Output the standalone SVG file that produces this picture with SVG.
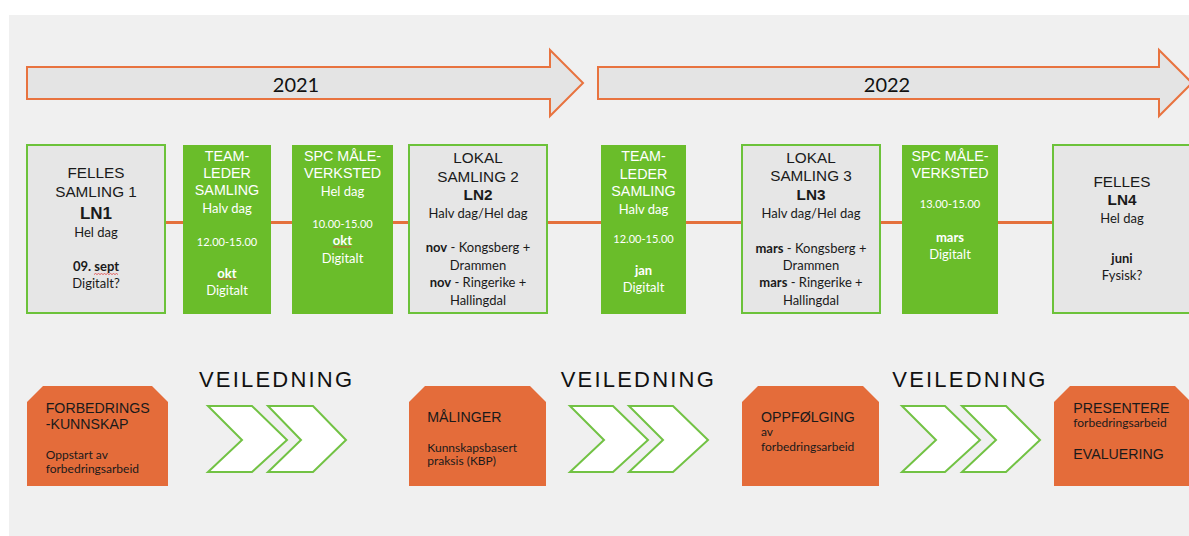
<svg xmlns="http://www.w3.org/2000/svg" width="1189" height="536" viewBox="0 0 1189 536">
<style>
.bg{fill:#f0f0f0}
.yr{fill:#e4e4e4;stroke:#e8733f;stroke-width:2}
.yrt{font-family:Lato,"Liberation Sans",sans-serif;font-size:20px;fill:#111;text-anchor:middle}
.gbox{fill:#e6e6e6;stroke:#6cc23a;stroke-width:2}
.grn{fill:#6abd2a}
.ar{font-family:"Liberation Sans",Arial,sans-serif;text-anchor:middle}
.cb{font-family:Lato,"Open Sans",sans-serif;text-anchor:middle}
.dk{fill:#1a1a1a}
.wh{fill:#ffffff}
.t15{font-size:15.3px}
.t14{font-size:14.3px}
.c13{font-size:13px}
.c11{font-size:11px}
.b{font-weight:bold}
.conn{stroke:#e4703c;stroke-width:3;fill:none}
.org{fill:#e46c3a}
.chev{fill:#ffffff;stroke:#72c244;stroke-width:2}
.vl{font-family:"Liberation Sans",Arial,sans-serif;font-size:22px;letter-spacing:2.2px;fill:#111}
.ot{font-family:"Liberation Sans",Arial,sans-serif;font-size:14.2px;fill:#1a1a1a}
.os{font-family:Lato,"Open Sans",sans-serif;font-size:12px;fill:#1a1a1a}
.sq{stroke:#e04040;stroke-width:0.8;fill:none}
</style>
<rect class="bg" x="9" y="15" width="1180" height="521"/>

<g id="years">
<path class="yr" d="M27,67 H550 V50 L583,83 L550,116 V99 H27 Z"/>
<text class="yrt" x="296" y="92">2021</text>
<path class="yr" d="M598,67 H1159 V50 L1192,83 L1159,116 V99 H598 Z"/>
<text class="yrt" x="887" y="92">2022</text>
</g>

<g id="connectors">
<line class="conn" x1="165" y1="222.5" x2="1053" y2="222.5"/>
</g>

<g id="felles1">
<rect class="gbox" x="27" y="145" width="138" height="168"/>
<text class="ar dk t15" x="96" y="177.5">FELLES</text>
<text class="ar dk t15" x="96" y="196.5">SAMLING 1</text>
<text class="ar dk b" x="96" y="219" font-size="17px">LN1</text>
<text class="cb dk c13" x="96" y="236.5">Hel dag</text>
<text class="cb dk c13 b" x="96" y="271">09. sept</text>
<text class="cb dk c13" x="96" y="288">Digitalt?</text>
<path class="sq" d="M94,274.5 l1.5,-1 l1.5,1 l1.5,-1 l1.5,1 l1.5,-1 l1.5,1 l1.5,-1 l1.5,1 l1.5,-1 l1.5,1 l1.5,-1 l1.5,1 l1.5,-1 l1.5,1 l1.5,-1 l1.5,1"/>
</g>

<g id="teamleder1">
<rect class="grn" x="183" y="145" width="88" height="169"/>
<text class="ar wh t14" x="227" y="160.7">TEAM-</text>
<text class="ar wh t14" x="227" y="177.7">LEDER</text>
<text class="ar wh t14" x="227" y="195">SAMLING</text>
<text class="cb wh c13" x="227" y="213">Halv dag</text>
<text class="cb wh c11" x="227" y="246">12.00-15.00</text>
<text class="cb wh c13 b" x="227" y="277.5">okt</text>
<text class="cb wh c13" x="227" y="295">Digitalt</text>
<path class="sq" d="M218,279.5 l1.5,-1 l1.5,1 l1.5,-1 l1.5,1 l1.5,-1 l1.5,1 l1.5,-1 l1.5,1 l1.5,-1 l1.5,1 l1.5,-1 l1.5,1"/>
</g>

<g id="spc1">
<rect class="grn" x="292" y="145" width="101" height="169"/>
<text class="ar wh t14" x="342.5" y="160.7">SPC MÅLE-</text>
<text class="ar wh t14" x="342.5" y="177.7">VERKSTED</text>
<text class="cb wh c13" x="342.5" y="196">Hel dag</text>
<text class="cb wh c11" x="342.5" y="228">10.00-15.00</text>
<text class="cb wh c13 b" x="342.5" y="245">okt</text>
<text class="cb wh c13" x="342.5" y="262.5">Digitalt</text>
<path class="sq" d="M333,247.5 l1.5,-1 l1.5,1 l1.5,-1 l1.5,1 l1.5,-1 l1.5,1 l1.5,-1 l1.5,1 l1.5,-1 l1.5,1 l1.5,-1 l1.5,1"/>
</g>

<g id="lokal2">
<rect class="gbox" x="409" y="145" width="138" height="168"/>
<text class="ar dk t15" x="478" y="162.7">LOKAL</text>
<text class="ar dk t15" x="478" y="181.7">SAMLING 2</text>
<text class="ar dk t15 b" x="478" y="200">LN2</text>
<text class="cb dk c13" x="478" y="218">Halv dag/Hel dag</text>
<text class="cb dk c13" x="478" y="252"><tspan class="b">nov</tspan> - Kongsberg +</text>
<text class="cb dk c13" x="478" y="270">Drammen</text>
<text class="cb dk c13" x="478" y="287"><tspan class="b">nov</tspan> - Ringerike +</text>
<text class="cb dk c13" x="478" y="305">Hallingdal</text>
</g>

<g id="teamleder2">
<rect class="grn" x="601" y="145" width="85" height="169"/>
<text class="ar wh t14" x="643.5" y="160.7">TEAM-</text>
<text class="ar wh t14" x="643.5" y="178.5">LEDER</text>
<text class="ar wh t14" x="643.5" y="196">SAMLING</text>
<text class="cb wh c13" x="643.5" y="214">Halv dag</text>
<text class="cb wh c11" x="643.5" y="243.3">12.00-15.00</text>
<text class="cb wh c13 b" x="643.5" y="275">jan</text>
<text class="cb wh c13" x="643.5" y="291.7">Digitalt</text>
</g>

<g id="lokal3">
<rect class="gbox" x="742" y="145" width="138" height="168"/>
<text class="ar dk t15" x="811" y="162.7">LOKAL</text>
<text class="ar dk t15" x="811" y="180.7">SAMLING 3</text>
<text class="ar dk t15 b" x="811" y="200">LN3</text>
<text class="cb dk c13" x="811" y="218">Halv dag/Hel dag</text>
<text class="cb dk c13" x="811" y="252.5"><tspan class="b">mars</tspan> - Kongsberg +</text>
<text class="cb dk c13" x="811" y="270">Drammen</text>
<text class="cb dk c13" x="811" y="287"><tspan class="b">mars</tspan> - Ringerike +</text>
<text class="cb dk c13" x="811" y="304.5">Hallingdal</text>
</g>

<g id="spc2">
<rect class="grn" x="902" y="145" width="96" height="169"/>
<text class="ar wh t14" x="950" y="160.7">SPC MÅLE-</text>
<text class="ar wh t14" x="950" y="177.7">VERKSTED</text>
<text class="cb wh c11" x="950" y="208.3">13.00-15.00</text>
<text class="cb wh c13 b" x="950" y="241.7">mars</text>
<text class="cb wh c13" x="950" y="259">Digitalt</text>
</g>

<g id="felles4">
<rect class="gbox" x="1053" y="145" width="140" height="168"/>
<text class="ar dk t15" x="1122" y="186.7">FELLES</text>
<text class="ar dk t15 b" x="1122" y="205">LN4</text>
<text class="cb dk c13" x="1122" y="223.3">Hel dag</text>
<text class="cb dk c13 b" x="1122" y="262.7">juni</text>
<text class="cb dk c13" x="1122" y="280">Fysisk?</text>
</g>

<g id="forbedringskunnskap">
<path class="org" d="M27,402 L43,386 H152 L168,402 V486 H27 Z"/>
<text class="ot" x="45.7" y="413.3">FORBEDRINGS</text>
<text class="ot" x="45.7" y="429.3">-KUNNSKAP</text>
<text class="os" x="45.7" y="459">Oppstart av</text>
<text class="os" x="45.7" y="473.3">forbedringsarbeid</text>
</g>

<g id="veiledning1">
<text class="vl" x="199" y="386.7">VEILEDNING</text>
<polygon class="chev" points="208,406 252,406 287,440 252,472 208,472 242,440"/>
<polygon class="chev" points="268,406 313,406 346,440 313,472 268,472 301,440"/>
</g>

<g id="malinger">
<path class="org" d="M409,402 L425,386 H530 L546,402 V486 H409 Z"/>
<text class="ot" x="427.3" y="421.7">MÅLINGER</text>
<text class="os" x="427.3" y="451.7">Kunnskapsbasert</text>
<text class="os" x="427.3" y="464.5">praksis (KBP)</text>
</g>

<g id="veiledning2">
<text class="vl" x="560.7" y="386.7">VEILEDNING</text>
<polygon class="chev" points="570,406 613,406 648,440 613,472 570,472 604,440"/>
<polygon class="chev" points="629,406 673,406 708,440 673,472 629,472 663,440"/>
</g>

<g id="oppfolging">
<path class="org" d="M742,402 L758,386 H863 L879,402 V486 H742 Z"/>
<text class="ot" x="761" y="421.7">OPPFØLGING</text>
<text class="os" x="761" y="436">av</text>
<text class="os" x="761" y="450.7">forbedringsarbeid</text>
</g>

<g id="veiledning3">
<text class="vl" x="892.3" y="386.7">VEILEDNING</text>
<polygon class="chev" points="902,406 945,406 980,440 945,472 902,472 936,440"/>
<polygon class="chev" points="962,406 1006,406 1040,440 1006,472 962,472 996,440"/>
</g>

<g id="presentere">
<path class="org" d="M1054,402 L1070,386 H1175 L1191,402 V486 H1054 Z"/>
<text class="ot" x="1073.3" y="413.3">PRESENTERE</text>
<text class="os" x="1073.3" y="426.7">forbedringsarbeid</text>
<text class="ot" x="1073.3" y="459.3">EVALUERING</text>
</g>
</svg>
